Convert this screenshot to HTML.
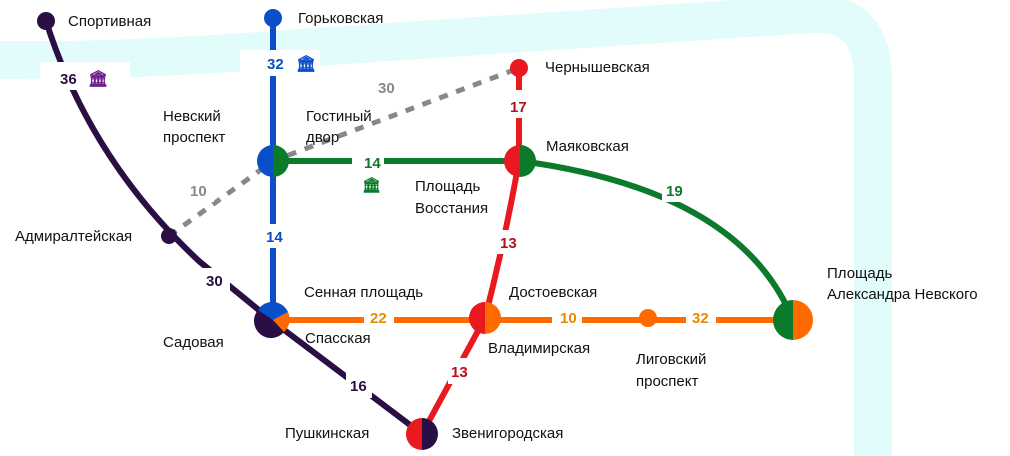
<!DOCTYPE html>
<html><head><meta charset="utf-8"><style>
body{margin:0;background:#fff}
svg{display:block}
text{font-family:"Liberation Sans",sans-serif}
.st{font-size:15px;fill:#111}
.n{font-size:15px;font-weight:bold;font-family:"Liberation Sans Narrow","Liberation Sans",sans-serif}
</style></head><body>
<svg width="1010" height="456" viewBox="0 0 1010 456">
<path d="M0,60 Q120,62 300,48 L810,14 Q873,10 873,80 L873,456" fill="none" stroke="#e2fcfc" stroke-width="38"/>
<g stroke="#888" stroke-width="5" stroke-dasharray="9,9" fill="none">
<path d="M169,236 L273,161 L519,68"/></g>
<path d="M46,21 Q90,160 200,262 L271,320 L422,434" fill="none" stroke="#2a0f44" stroke-width="6"/>
<path d="M273,18 L273,320" stroke="#0a4fc8" stroke-width="6"/>
<path d="M273,161 L520,161 Q740,190 793,320" fill="none" stroke="#0b7a2b" stroke-width="6"/>
<path d="M519,68 L519,161 Q505,240 485,318 L422,434" fill="none" stroke="#e8191f" stroke-width="6"/>
<path d="M271,320 L793,320" stroke="#ff6a00" stroke-width="6"/>
<g fill="#fff">
<rect x="40" y="62" width="90" height="28"/><rect x="240" y="50" width="80" height="26"/>
<rect x="360" y="75" width="40" height="22"/><rect x="505" y="90" width="28" height="28"/>
<rect x="352" y="150" width="32" height="24"/><rect x="662" y="178" width="30" height="24"/>
<rect x="184" y="178" width="30" height="24"/><rect x="260" y="224" width="30" height="24"/>
<rect x="497" y="230" width="28" height="24"/><rect x="200" y="268" width="30" height="24"/>
<rect x="364" y="306" width="30" height="28"/><rect x="552" y="306" width="30" height="28"/>
<rect x="686" y="306" width="30" height="28"/><rect x="346" y="372" width="26" height="26"/>
<rect x="448" y="358" width="24" height="26"/>
</g>
<g class="n">
<text x="60" y="84" fill="#2a0f44">36</text><text x="88" y="84" fill="#6b1f8c" font-size="16">🏛</text>
<text x="267" y="69" fill="#0a4fc8">32</text><text x="296" y="69" fill="#0a4fc8" font-size="16">🏛</text>
<text x="378" y="93" fill="#888">30</text>
<text x="510" y="112" fill="#b5121b">17</text>
<text x="364" y="168" fill="#0b7a2b">14</text><text x="362" y="190" fill="#0b7a2b" font-size="15">🏛</text>
<text x="666" y="196" fill="#0b7a2b">19</text>
<text x="190" y="196" fill="#888">10</text>
<text x="266" y="242" fill="#0a4fc8">14</text>
<text x="500" y="248" fill="#b5121b">13</text>
<text x="206" y="286" fill="#2a0f44">30</text>
<text x="370" y="323" fill="#e88a00">22</text>
<text x="560" y="323" fill="#e88a00">10</text>
<text x="692" y="323" fill="#e88a00">32</text>
<text x="350" y="391" fill="#2a0f44">16</text>
<text x="451" y="377" fill="#b5121b">13</text>
</g>
<g>
<circle cx="46" cy="21" r="9" fill="#2a0f44"/>
<circle cx="273" cy="18" r="9" fill="#0a4fc8"/>
<circle cx="519" cy="68" r="9" fill="#e8191f"/>
<circle cx="169" cy="236" r="8" fill="#2a0f44"/>
<circle cx="648" cy="318" r="9" fill="#ff6a00"/>
<path d="M273,145 A16,16 0 0 0 273,177Z" fill="#0a4fc8"/><path d="M273,145 A16,16 0 0 1 273,177Z" fill="#0b7a2b"/>
<path d="M520,145 A16,16 0 0 0 520,177Z" fill="#e8191f"/><path d="M520,145 A16,16 0 0 1 520,177Z" fill="#0b7a2b"/>
<path d="M793,300 A20,20 0 0 0 793,340Z" fill="#0b7a2b"/><path d="M793,300 A20,20 0 0 1 793,340Z" fill="#ff6a00"/>
<path d="M485,302 A16,16 0 0 0 485,334Z" fill="#e8191f"/><path d="M485,302 A16,16 0 0 1 485,334Z" fill="#ff6a00"/>
<path d="M422,418 A16,16 0 0 0 422,450Z" fill="#e8191f"/><path d="M422,418 A16,16 0 0 1 422,450Z" fill="#2a0f44"/>
<path d="M258,310 A17,17 0 0 0 284,332 L273,320Z" fill="#2a0f44"/>
<path d="M284,332 A17,17 0 0 0 288,312 L273,320Z" fill="#ff6a00"/>
<path d="M258,310 A17,17 0 0 1 288,312 L273,320Z" fill="#0a4fc8"/>
</g>
<g class="st">
<text x="68" y="26">Спортивная</text>
<text x="298" y="23">Горьковская</text>
<text x="545" y="72">Чернышевская</text>
<text x="163" y="121">Невский</text><text x="163" y="142">проспект</text>
<text x="306" y="121">Гостиный</text><text x="306" y="142">двор</text>
<text x="546" y="151">Маяковская</text>
<text x="415" y="191">Площадь</text><text x="415" y="213">Восстания</text>
<text x="15" y="241">Адмиралтейская</text>
<text x="827" y="278">Площадь</text><text x="827" y="299">Александра Невского</text>
<text x="304" y="297">Сенная площадь</text>
<text x="509" y="297">Достоевская</text>
<text x="163" y="347">Садовая</text>
<text x="305" y="343">Спасская</text>
<text x="488" y="353">Владимирская</text>
<text x="636" y="364">Лиговский</text><text x="636" y="386">проспект</text>
<text x="285" y="438">Пушкинская</text>
<text x="452" y="438">Звенигородская</text>
</g>
</svg>
</body></html>
